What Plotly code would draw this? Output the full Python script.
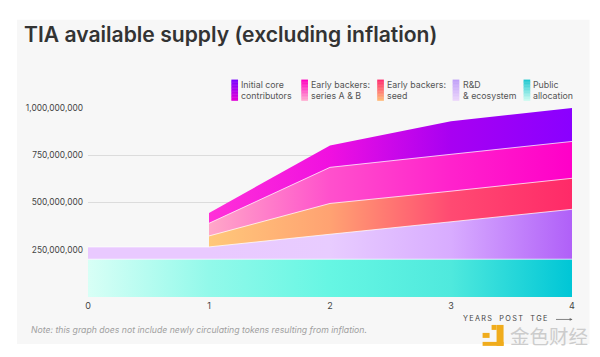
import numpy as np
import plotly.graph_objects as go

years = [0, 1, 2, 3, 4]
public_allocation = [200e6, 200e6, 200e6, 200e6, 200e6]
rd_ecosystem = [65e6, 65e6, 132e6, 200e6, 264e6]
seed = [None, 58e6, 163e6, 160e6, 164e6]
series_ab = [None, 67e6, 191e6, 195e6, 195e6]
core = [None, 55e6, 116e6, 175e6, 177e6]

y_ticks = [250e6, 500e6, 750e6, 1000e6]
y_labels = ["250,000,000", "500,000,000", "750,000,000", "1,000,000,000"]

W, H = 600, 357
L, R, T, B = 88, 572.5, 107.5, 297

def px(x): return (x - L) / (R - L)
def py(y): return (B - y) / (B - T)

def cs(cols):
    return [[i / (len(cols) - 1), c] for i, c in enumerate(cols)]

band_names = ["Public allocation", "R&D & ecosystem", "Early backers: seed", "Early backers: series A & B", "Initial core contributors"]
bands = [public_allocation, rd_ecosystem, seed, series_ab, core]
grads = [
    ["#d8fff6", "#92f9ea", "#66f6e3", "#4fe9dd", "#00c6d6"],
    ["#e9c9ff", "#e9c9ff", "#e8ccff", "#d8acff", "#b060f8"],
    ["#ffc87a", "#ffc87a", "#ffa272", "#ff4a72", "#ff2a68"],
    ["#ffa8c8", "#ffa8c8", "#ff50cc", "#ff22cc", "#ff00c8"],
    ["#ff30d8", "#ff30d8", "#f010e0", "#a800f2", "#8a00ff"],
]

fig = go.Figure()
cum = np.zeros(5)
tops = []
for b in bands:
    arr = np.array([np.nan if v is None else v for v in b], dtype=float)
    cum = np.where(np.isnan(arr), cum, cum + arr)
    tops.append(np.where(np.isnan(arr), np.nan, cum))

for i in range(4, -1, -1):
    mask = ~np.isnan(tops[i])
    xs = np.array(years)[mask]
    ys = tops[i][mask]
    fig.add_trace(go.Scatter(
        x=xs, y=ys, mode="lines", name=band_names[i],
        line=dict(color="rgba(255,255,255,0.75)" if i < 4 else "rgba(0,0,0,0)", width=1),
        fill="tozeroy",
        fillgradient=dict(type="horizontal", start=0, stop=4, colorscale=cs(grads[i])),
        hoverinfo="skip", showlegend=False, cliponaxis=False,
    ))

shapes = [dict(type="rect", xref="paper", yref="paper", layer="below",
               x0=px(17), x1=px(590), y0=py(344), y1=py(19),
               fillcolor="#f7f7f7", line=dict(width=0))]

# legend
legend_items = [
    (231.5, 239, "Initial core<br>contributors", ["#7a00ff", "#e000d8"]),
    (301.5, 309, "Early backers:<br>series A & B", ["#ff00c0", "#ffa8d0"]),
    (377.5, 385.5, "Early backers:<br>seed", ["#ff3070", "#ffb878"]),
    (453, 461, "R&D<br>& ecosystem", ["#c0a0f8", "#ead4fb"]),
    (524, 531.5, "Public<br>allocation", ["#20c8d0", "#c8faf0"]),
]
annotations = []
def lerp(c0, c1, t):
    a = [int(c0[j:j+2], 16) for j in (1, 3, 5)]
    b = [int(c1[j:j+2], 16) for j in (1, 3, 5)]
    return "rgb(%d,%d,%d)" % tuple(round(a[k] + (b[k] - a[k]) * t) for k in range(3))

for sx, tx, label, (c0, c1) in legend_items:
    n = 14
    for k in range(n):
        y0 = 79 + 21 * k / n
        y1 = 79 + 21 * (k + 1) / n + 0.3
        shapes.append(dict(type="rect", xref="paper", yref="paper", layer="above",
                           x0=px(sx), x1=px(sx + 6.7), y0=py(y1), y1=py(y0),
                           fillcolor=lerp(c0, c1, k / (n - 1)), line=dict(width=0)))
    annotations.append(dict(text=label, xref="paper", yref="paper", x=px(tx), y=py(89.5),
                            xanchor="left", yanchor="middle", align="left", showarrow=False,
                            font=dict(family="Inter", size=8.8, color="#555555")))

annotations += [
    dict(text="TIA available supply (excluding inflation)", xref="paper", yref="paper",
         x=px(22), y=py(34), xanchor="left", yanchor="middle", showarrow=False,
         font=dict(family="Inter", size=21.1, color="#333333", weight=600)),
    dict(text="Note: this graph does not include newly circulating tokens resulting from inflation.",
         xref="paper", yref="paper", x=px(29), y=py(330), xanchor="left", yanchor="middle",
         showarrow=False, font=dict(family="Inter", size=8.7, color="#a0a0a0", style="italic")),
    dict(text="\u2009".join("YEARS") + "\u2003" + "\u2009".join("POST") + "\u2003" + "\u2009".join("TGE"),
         xref="paper", yref="paper", x=px(549), y=py(319), xanchor="right", yanchor="middle",
         showarrow=False, font=dict(family="Inter", size=7.3, color="#444444")),
    dict(text="", xref="paper", yref="paper", x=px(573), y=py(319.5), ax=-18, ay=0,
         axref="pixel", ayref="pixel", showarrow=True, arrowhead=2, arrowsize=0.7,
         arrowwidth=0.8, arrowcolor="#666666"),
    dict(text="金色财经", xref="paper", yref="paper", x=px(508), y=py(336),
         xanchor="left", yanchor="middle", showarrow=False,
         font=dict(family="Noto Sans CJK SC", size=19.5, color="#cccccc")),
]

# watermark logo
logo = "#f0ac1c"
for x0, x1, y0, y1 in [(483, 504, 342, 346), (497, 504, 325, 346), (483, 490, 333, 338), (492, 497, 325, 330)]:
    shapes.append(dict(type="rect", xref="paper", yref="paper", layer="above",
                       x0=px(x0), x1=px(x1), y0=py(y1), y1=py(y0), fillcolor=logo, line=dict(width=0)))

fig.update_layout(
    width=W, height=H, autosize=False,
    margin=dict(l=L, r=W - R, t=T, b=H - B),
    paper_bgcolor="white", plot_bgcolor="rgba(0,0,0,0)",
    xaxis=dict(range=[0, 4], tickvals=years, ticks="", showgrid=False, zeroline=False, showline=False,
               ticklabelstandoff=2, tickfont=dict(family="Inter", size=9, color="#444444")),
    yaxis=dict(range=[0, 1e9], tickvals=y_ticks, ticktext=y_labels, ticks="", showgrid=True,
               gridcolor="#dcdcdc", gridwidth=1, zeroline=False, showline=False,
               ticklabelstandoff=4, tickfont=dict(family="Inter", size=8.4, color="#444444")),
    shapes=shapes, annotations=annotations, showlegend=False,
)
fig.write_html("out.html", config={"displayModeBar": False},
               post_script="document.body.style.margin='0';")
